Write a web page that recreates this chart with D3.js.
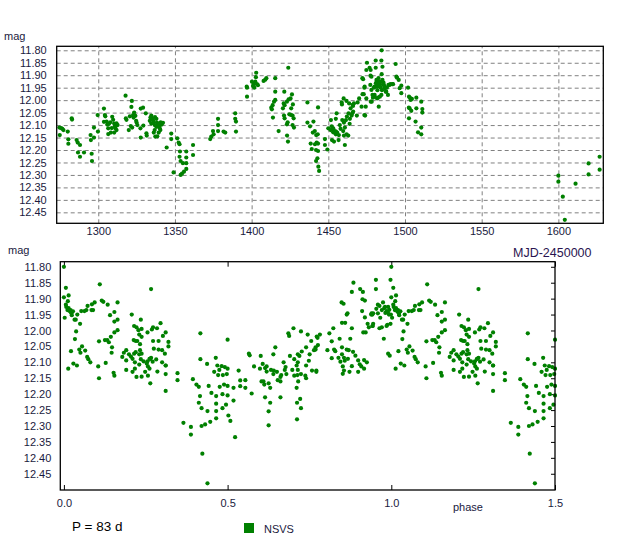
<!DOCTYPE html>
<html><head><meta charset="utf-8">
<script src="https://cdn.jsdelivr.net/npm/d3@7"></script>
<style>body{margin:0;background:#fff}svg{display:block;font-family:"Liberation Sans",Arial,sans-serif}</style>
</head><body><svg id="c" width="629" height="553"></svg>
<script>
// ---- data ----
const seriesName = "NSVS";
const period = 83;          // days
const epoch = 1484.8;       // MJD-2450000 of phase 0
// [MJD-2450000, magnitude]
const observations = [
[1274.7,12.110],[1274.9,12.140],[1276.6,12.115],[1277.3,12.120],[1275.8,12.112],
[1280.1,12.126],[1280.5,12.157],[1280.5,12.175],[1282.7,12.073],[1282.9,12.078],
[1285.9,12.160],[1286.6,12.170],[1288.1,12.180],[1286.8,12.210],[1288.1,12.227],[1290.7,12.210],
[1295.0,12.140],[1295.2,12.160],[1297.2,12.110],[1297.2,12.150],[1295.7,12.215],[1295.9,12.244],
[1299.6,12.060],[1299.8,12.126],
[1303.7,12.034],[1304.3,12.060],[1304.6,12.065],[1303.7,12.087],[1305.4,12.086],[1306.5,12.113],[1306.5,12.136],
[1307.8,12.089],[1309.1,12.067],[1309.7,12.079],[1310.4,12.094],[1310.8,12.106],[1311.9,12.093],[1311.9,12.120],
[1310.4,12.130],[1308.2,12.130],[1312.6,12.100],[1305.9,12.098],[1308.8,12.112],[1307.0,12.095],[1311.2,12.113],
[1317.8,11.982],[1318.0,12.073],[1318.4,12.079],
[1321.9,12.003],[1321.6,12.027],[1320.6,12.065],[1321.2,12.104],[1319.9,12.120],[1322.1,12.110],[1322.7,12.060],
[1323.4,12.050],[1324.2,12.063],[1324.7,12.083],[1325.5,12.100],[1327.7,12.034],[1329.2,12.030],[1327.5,12.113],
[1327.7,12.150],[1329.4,12.102],[1331.4,12.133],[1331.6,12.142],[1331.0,12.053],[1323.0,12.070],[1325.0,12.090],
[1334.6,12.062],[1333.6,12.083],[1335.3,12.075],[1336.2,12.089],[1336.8,12.100],[1337.9,12.075],[1334.6,12.094],
[1336.8,12.120],[1337.9,12.107],[1339.0,12.097],[1340.1,12.113],[1340.7,12.089],[1342.2,12.091],[1337.2,12.146],
[1338.5,12.145],[1336.2,12.130],[1339.4,12.130],[1335.8,12.082],[1338.3,12.090],[1339.8,12.104],[1341.3,12.098],
[1334.0,12.070],[1337.0,12.068],[1340.5,12.120],
[1344.6,12.190],[1347.6,12.134],[1347.6,12.156],[1349.1,12.290],
[1351.5,12.153],[1352.4,12.170],[1353.0,12.177],[1353.3,12.206],[1353.0,12.227],[1353.7,12.244],[1357.4,12.206],
[1357.4,12.230],[1357.4,12.253],[1357.4,12.276],[1355.2,12.253],[1355.9,12.287],[1353.7,12.300],[1354.6,12.295],
[1361.8,12.180],[1361.8,12.220],
[1373.0,12.156],[1373.7,12.146],[1374.8,12.124],[1375.2,12.137],[1378.1,12.075],[1378.1,12.100],[1378.1,12.124],
[1381.7,12.126],[1382.8,12.130],[1389.3,12.053],[1389.3,12.075],[1389.8,12.086],[1389.8,12.126],
[1397.0,11.986],[1397.0,11.950],[1396.8,11.946],
[1400.2,11.926],[1400.9,11.943],[1401.7,11.950],[1402.4,11.926],[1402.8,11.908],[1403.0,11.890],[1403.5,11.936],
[1404.1,11.940],[1401.3,11.935],[1407.8,11.923],[1408.9,11.918],[1409.6,11.912],
[1415.4,11.912],[1423.9,11.870],[1415.4,11.966],[1421.3,11.966],
[1412.8,12.030],[1413.7,12.020],[1414.6,12.006],[1415.4,11.999],[1413.2,12.037],[1413.9,12.070],[1417.6,12.124],
[1420.9,12.013],[1420.4,12.033],[1421.5,12.020],[1421.1,12.062],[1421.5,12.073],[1423.0,12.097],[1423.0,12.006],
[1424.1,11.997],[1425.4,11.993],[1426.3,11.977],[1426.9,12.017],[1425.8,12.033],[1424.6,12.057],[1425.8,12.060],
[1426.7,12.062],[1427.4,12.073],[1426.7,12.100],[1427.6,12.110],[1423.5,12.089],[1423.1,12.142],[1423.7,12.166],
[1436.4,12.009],[1436.4,12.090],[1438.1,12.105],[1440.3,12.086],[1439.9,12.130],[1441.2,12.124],[1442.1,12.140],
[1443.1,12.137],[1438.5,12.174],[1439.2,12.196],[1441.3,12.177],[1442.4,12.170],[1443.3,12.174],[1442.0,12.200],
[1443.3,12.204],[1442.9,12.233],[1442.0,12.244],[1443.5,12.267],[1444.0,12.284],[1443.3,12.029],
[1447.8,12.180],[1449.4,12.198],[1447.8,12.156],
[1450.0,12.113],[1451.5,12.120],[1452.2,12.105],[1453.2,12.113],[1453.2,12.129],[1454.3,12.124],[1454.9,12.137],
[1452.4,12.160],[1453.7,12.166],[1456.7,12.160],[1455.8,12.130],[1456.9,12.140],[1451.7,12.080],[1454.9,12.075],
[1455.4,12.053],[1458.9,12.017],[1458.7,12.009],[1460.0,11.993],[1459.1,12.080],[1460.2,12.090],[1460.8,12.110],
[1459.7,12.124],[1460.2,12.142],[1461.9,12.137],[1463.0,12.142],[1460.8,12.180],[1461.5,12.080],[1462.1,12.066],
[1463.2,12.053],[1464.1,12.075],[1465.2,12.062],[1466.2,12.046],[1464.5,12.033],[1465.9,12.019],[1466.7,12.013],
[1461.9,12.003],[1463.6,12.013],[1457.5,12.100],[1458.0,12.115],[1452.8,12.118],[1455.0,12.126],
[1475.2,11.850],[1480.9,11.841],[1484.6,11.841],[1484.8,11.800],[1493.9,11.855],[1476.9,11.870],[1480.9,11.870],
[1485.3,11.866],[1474.8,11.879],[1477.6,11.879],[1484.8,11.896],[1472.2,11.912],[1478.1,11.906],[1481.4,11.919],
[1482.7,11.912],[1484.0,11.926],[1482.4,11.936],[1480.2,11.946],[1485.7,11.936],[1486.7,11.946],[1487.8,11.966],
[1488.9,11.979],[1490.0,11.939],[1492.2,11.936],[1494.8,11.910],[1495.9,11.919],[1496.5,11.952],[1497.6,11.972],
[1477.4,11.939],[1478.1,11.959],[1480.2,11.979],[1482.4,11.990],[1473.7,11.946],[1473.1,11.976],[1474.8,11.993],
[1479.1,11.990],[1478.3,12.006],[1482.9,12.026],[1469.1,12.009],[1471.7,12.026],[1473.5,12.060],[1468.6,12.062],
[1466.1,12.023],[1465.6,12.053],[1463.9,12.095],
[1472.7,11.916],[1473.5,11.950],[1477.5,11.902],[1477.7,12.006],[1478.8,11.979],[1479.7,11.950],[1481.8,11.923],
[1483.6,11.939],[1481.8,11.993],[1483.6,11.986],[1484.6,11.979],[1481.4,11.946],[1485.3,11.919],[1486.8,11.952],
[1487.5,11.966],[1489.2,11.939],[1490.5,11.936],[1491.8,11.936],[1494.4,11.906],[1497.6,11.942],[1470.1,11.993],
[1474.0,12.062],[1474.4,12.026],[1472.3,11.976],[1480.1,11.986],[1483.0,11.930],[1484.2,11.950],[1482.0,11.960],
[1485.0,11.960],[1486.0,11.930],[1483.3,11.945],[1481.0,11.932],[1486.3,11.940],[1488.2,11.950],
[1502.0,11.950],[1502.6,11.986],[1503.7,11.999],[1507.4,11.990],[1510.6,12.006],[1503.0,12.033],[1504.1,12.043],
[1507.4,12.033],[1511.3,12.036],[1511.3,12.050],[1502.6,12.073],[1506.9,12.086],[1510.6,12.110],[1508.5,12.129],
[1510.6,12.137],[1503.2,11.990],[1504.5,11.995],[1502.5,12.030],
[1600.0,12.303],[1600.0,12.327],[1602.9,12.387],[1604.2,12.480],[1611.2,12.335],[1619.7,12.254],[1619.7,12.298],
[1626.9,12.227],[1626.9,12.279]
];
const magTicks = [11.80,11.85,11.90,11.95,12.00,12.05,12.10,12.15,12.20,12.25,12.30,12.35,12.40,12.45];
const mjdTicks = [1300,1350,1400,1450,1500,1550,1600];
const phaseTicks = [0.0,0.5,1.0,1.5];
const labels = {mag:"mag", mjd:"MJD-2450000", phase:"phase", period:"P = 83 d"};

// ---- drawing ----
const svg = d3.select("#c");
const green = "#008000", txt = "#1a1a40";
const fmt2 = d3.format(".2f"), fmt1 = d3.format(".1f");
const ff = "Liberation Sans, Arial, sans-serif";
const R = 2.1;

// top panel: light curve vs time
const T = {l:56.7, r:603.3, t:46.3, b:223.3};
const xT = d3.scaleLinear().domain([1272.9,1629.3]).range([T.l,T.r]);
const yT = d3.scaleLinear().domain([11.784,12.494]).range([T.t,T.b]);

const gT = svg.append("g");
gT.append("g").attr("transform",`translate(${T.l},0)`)
  .call(d3.axisLeft(yT).tickValues(magTicks).tickSize(-(T.r-T.l)).tickFormat(""))
  .call(g=>g.select(".domain").remove())
  .call(g=>g.selectAll("line").attr("stroke","#808080").attr("stroke-dasharray","4,3"));
gT.append("g").attr("transform",`translate(0,${T.b})`)
  .call(d3.axisBottom(xT).tickValues(mjdTicks).tickSize(-(T.b-T.t)).tickFormat(""))
  .call(g=>g.select(".domain").remove())
  .call(g=>g.selectAll("line").attr("stroke","#808080").attr("stroke-dasharray","4,3"));
gT.append("g").attr("transform",`translate(${T.l},0)`)
  .call(d3.axisLeft(yT).tickValues(magTicks).tickSize(0).tickPadding(10).tickFormat(fmt2))
  .call(g=>g.select(".domain").remove())
  .call(g=>g.selectAll("text").attr("fill",txt).style("font-size","11px").style("font-family",ff));
gT.append("g").attr("transform",`translate(0,${T.b})`)
  .call(d3.axisBottom(xT).tickValues(mjdTicks).tickSize(0).tickPadding(4).tickFormat(d3.format("d")))
  .call(g=>g.select(".domain").remove())
  .call(g=>g.selectAll("text").attr("fill",txt).style("font-size","11px").style("font-family",ff));
svg.append("clipPath").attr("id","clipT").append("rect")
  .attr("x",T.l).attr("y",T.t).attr("width",T.r-T.l).attr("height",T.b-T.t);
gT.append("g").attr("clip-path","url(#clipT)").selectAll("circle").data(observations).join("circle")
  .attr("cx",d=>xT(d[0])).attr("cy",d=>yT(d[1])).attr("r",R).attr("fill",green);
gT.append("rect").attr("x",T.l).attr("y",T.t).attr("width",T.r-T.l).attr("height",T.b-T.t)
  .attr("fill","none").attr("stroke","#000").attr("stroke-width",1.3);
svg.append("text").attr("x",4).attr("y",40).attr("fill",txt).style("font-size","11px").text(labels.mag);

// bottom panel: phase diagram
const B = {l:60.3, r:555, t:261.7, b:490};
const xB = d3.scaleLinear().domain([-0.011,1.5]).range([B.l,B.r]);
const yB = d3.scaleLinear().domain([11.784,12.501]).range([B.t,B.b]);
const folded = [];
observations.forEach(([t,m])=>{
  let ph = ((t-epoch)/period) % 1; if (ph<0) ph += 1;
  folded.push([ph,m]);
  if (ph<=0.5) folded.push([ph+1,m]);
});
const gB = svg.append("g");
gB.append("g").attr("transform",`translate(${B.l},0)`)
  .call(d3.axisLeft(yB).tickValues(magTicks).tickSize(0).tickPadding(9).tickFormat(fmt2))
  .call(g=>g.select(".domain").remove())
  .call(g=>g.selectAll("text").attr("fill",txt).style("font-size","11px").style("font-family",ff));
gB.append("g").attr("transform",`translate(${B.r},0)`)
  .call(d3.axisRight(yB).tickValues(magTicks).tickSize(-4).tickFormat(""))
  .call(g=>g.select(".domain").remove())
  .call(g=>g.selectAll("line").attr("stroke","#000"));
gB.append("g").attr("transform",`translate(0,${B.b})`)
  .call(d3.axisBottom(xB).tickValues(phaseTicks).tickSize(-5).tickPadding(9).tickFormat(fmt1))
  .call(g=>g.select(".domain").remove())
  .call(g=>g.selectAll("line").attr("stroke","#000"))
  .call(g=>g.selectAll("text").attr("fill",txt).style("font-size","11px").style("font-family",ff));
gB.append("g").attr("transform",`translate(0,${B.t})`)
  .call(d3.axisTop(xB).tickValues(phaseTicks).tickSize(-5).tickFormat(""))
  .call(g=>g.select(".domain").remove())
  .call(g=>g.selectAll("line").attr("stroke","#000"));
svg.append("clipPath").attr("id","clipB").append("rect")
  .attr("x",B.l).attr("y",B.t).attr("width",B.r-B.l+2).attr("height",B.b-B.t);
gB.append("g").attr("clip-path","url(#clipB)").selectAll("circle").data(folded).join("circle")
  .attr("cx",d=>xB(d[0])).attr("cy",d=>yB(d[1])).attr("r",R).attr("fill",green);
gB.append("rect").attr("x",B.l).attr("y",B.t).attr("width",B.r-B.l).attr("height",B.b-B.t)
  .attr("fill","none").attr("stroke","#000").attr("stroke-width",1.3);
svg.append("text").attr("x",8).attr("y",254).attr("fill",txt).style("font-size","11px").text(labels.mag);
svg.append("text").attr("x",513).attr("y",257).attr("fill","#2a1450").style("font-size","12.5px").text(labels.mjd);
svg.append("text").attr("x",453).attr("y",511).attr("fill",txt).style("font-size","11px").text(labels.phase);
svg.append("text").attr("x",72).attr("y",531).attr("fill","#000").style("font-size","13.5px").text(labels.period);
svg.append("rect").attr("x",244).attr("y",523).attr("width",10).attr("height",10).attr("fill",green);
svg.append("text").attr("x",264).attr("y",533).attr("fill",txt).style("font-size","11px").text(seriesName);
</script></body></html>
